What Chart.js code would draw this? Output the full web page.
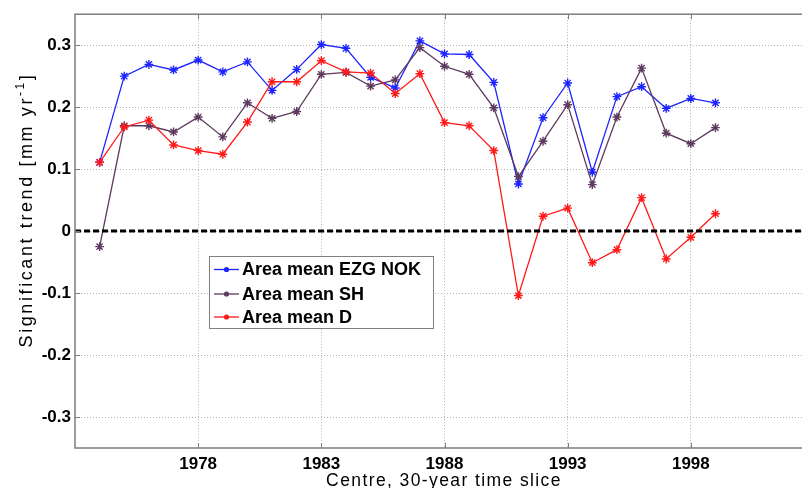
<!DOCTYPE html>
<html>
<head>
<meta charset="utf-8">
<script src="https://cdn.jsdelivr.net/npm/chart.js@4/dist/chart.umd.min.js"></script>
<style>
  html, body { margin: 0; padding: 0; background: #fff; overflow: hidden; }
  canvas { display: block; }
</style>
</head>
<body>
<canvas id="c" width="830" height="488"></canvas>
<script>
// Centre year of each 30-year time slice
const years = [1974, 1975, 1976, 1977, 1978, 1979, 1980, 1981, 1982, 1983, 1984, 1985, 1986,
               1987, 1988, 1989, 1990, 1991, 1992, 1993, 1994, 1995, 1996, 1997, 1998, 1999];

// Significant trend [mm/yr], area means
const ezgNok = [0.111, 0.250, 0.269, 0.260, 0.276, 0.257, 0.273, 0.227, 0.261, 0.301, 0.295, 0.248, 0.231,
                0.307, 0.286, 0.285, 0.240, 0.076, 0.183, 0.239, 0.095, 0.217, 0.233, 0.198, 0.214, 0.207];
const sh     = [-0.025, 0.170, 0.170, 0.160, 0.184, 0.152, 0.207, 0.182, 0.193, 0.253, 0.256, 0.234, 0.244,
                0.296, 0.266, 0.253, 0.199, 0.088, 0.145, 0.204, 0.075, 0.184, 0.263, 0.158, 0.141, 0.167];
const dMean  = [0.111, 0.168, 0.179, 0.139, 0.130, 0.124, 0.176, 0.241, 0.241, 0.275, 0.257, 0.255, 0.222,
                0.254, 0.175, 0.170, 0.130, -0.104, 0.024, 0.037, -0.051, -0.030, 0.054, -0.045, -0.010, 0.028];

const seriesNames = ['Area mean EZG NOK', 'Area mean SH', 'Area mean D'];

// Axis layout
const xRange = [1973, 2003];
const yRange = [-0.35, 0.35];
const xTicks = [1978, 1983, 1988, 1993, 1998];
const yTicks = [-0.3, -0.2, -0.1, 0, 0.1, 0.2, 0.3];
const zeroLine = [0, 0];

const FONT = "'Liberation Sans', Arial, Helvetica, sans-serif";
const toPoints = (vals) => years.map((yr, i) => ({ x: yr, y: vals[i] }));

function series(label, vals, color, order) {
  return {
    label, data: toPoints(vals), order,
    borderColor: color, backgroundColor: color,
    borderWidth: 1.3, pointStyle: 'star', pointRadius: 4.4,
    pointBorderWidth: 1.4, pointBorderColor: color, tension: 0
  };
}

// Frame, inward tick marks, legend box and axis titles
const decorations = {
  id: 'decorations',
  afterDraw(chart) {
    const { ctx, chartArea: a, scales: { x, y } } = chart;
    ctx.save();
    ctx.strokeStyle = '#7d7d7d';
    ctx.lineWidth = 1.5;
    ctx.strokeRect(a.left, a.top, a.right - a.left, a.bottom - a.top);
    ctx.lineWidth = 1;
    ctx.beginPath();
    xTicks.forEach(v => {
      const px = Math.round(x.getPixelForValue(v)) + 0.5;
      ctx.moveTo(px, a.bottom); ctx.lineTo(px, a.bottom - 5);
      ctx.moveTo(px, a.top); ctx.lineTo(px, a.top + 5);
    });
    yTicks.forEach(v => {
      const py = Math.round(y.getPixelForValue(v)) + 0.5;
      ctx.moveTo(a.left, py); ctx.lineTo(a.left + 5, py);
    });
    ctx.stroke();

    // legend
    const lx = 209.5, ly = 256.5, lw = 224, lh = 72;
    ctx.fillStyle = '#fff';
    ctx.fillRect(lx, ly, lw, lh);
    ctx.strokeStyle = '#808080';
    ctx.lineWidth = 1;
    ctx.strokeRect(lx, ly, lw, lh);
    const rows = [269.5, 294, 317];
    const ds = chart.data.datasets.filter(d => seriesNames.includes(d.label));
    ds.forEach((d, i) => {
      const ry = rows[i];
      ctx.strokeStyle = d.borderColor;
      ctx.lineWidth = 1.3;
      ctx.beginPath(); ctx.moveTo(214, ry); ctx.lineTo(239, ry); ctx.stroke();
      ctx.beginPath(); ctx.fillStyle = d.borderColor; ctx.arc(226.5, ry, 2.6, 0, Math.PI * 2); ctx.fill();
      ctx.fillStyle = '#000';
      ctx.font = 'bold 18px ' + FONT;
      ctx.textBaseline = 'middle';
      ctx.textAlign = 'left';
      ctx.fillText(d.label, 242, ry + 1);
    });

    // axis titles
    ctx.fillStyle = '#000';
    ctx.textBaseline = 'middle';
    ctx.letterSpacing = '1.4px';
    ctx.font = '17.5px ' + FONT;
    ctx.textAlign = 'center';
    ctx.fillText('Centre, 30-year time slice', 444, 481);

    ctx.translate(27, 210);
    ctx.rotate(-Math.PI / 2);
    ctx.letterSpacing = '2.6px';
    const main = 'Significant trend [mm yr';
    const sup = '-1';
    const tail = ']';
    ctx.font = '18px ' + FONT;
    const w1 = ctx.measureText(main).width;
    const w3 = ctx.measureText(tail).width;
    ctx.font = '12px ' + FONT;
    const w2 = ctx.measureText(sup).width;
    let sx = -(w1 + w2 + w3) / 2;
    ctx.textAlign = 'left';
    ctx.font = '18px ' + FONT;
    ctx.fillText(main, sx, 0);
    ctx.font = '12px ' + FONT;
    ctx.fillText(sup, sx + w1, -6);
    ctx.font = '18px ' + FONT;
    ctx.fillText(tail, sx + w1 + w2, 0);
    ctx.restore();
  }
};

new Chart(document.getElementById('c'), {
  type: 'line',
  data: {
    datasets: [
      {
        label: 'zero', data: xRange.map((v, i) => ({ x: v, y: zeroLine[i] })), order: 0,
        borderColor: '#000', borderWidth: 3, borderDash: [6, 3], pointRadius: 0
      },
      series(seriesNames[0], ezgNok, '#1d25ff', 3),
      series(seriesNames[1], sh, '#5e3a5e', 2),
      series(seriesNames[2], dMean, '#ff1a1a', 1)
    ]
  },
  options: {
    responsive: false,
    animation: false,
    devicePixelRatio: 1,
    layout: { padding: { top: 13, right: 16, bottom: 0, left: 0 } },
    plugins: { legend: { display: false }, tooltip: { enabled: false } },
    scales: {
      x: {
        type: 'linear', min: xRange[0], max: xRange[1],
        afterBuildTicks: s => { s.ticks = xTicks.map(v => ({ value: v })); },
        afterFit: s => { s.height = 40; },
        grid: { color: '#b0b0b0', lineWidth: 1, drawTicks: false },
        border: { display: false, dash: [1, 2] },
        ticks: {
          padding: 6, color: '#000', maxRotation: 0, autoSkip: false,
          font: { family: FONT, size: 17, weight: 'bold' },
          callback: v => String(v)
        }
      },
      y: {
        type: 'linear', min: yRange[0], max: yRange[1],
        afterBuildTicks: s => { s.ticks = yTicks.map(v => ({ value: v })); },
        afterFit: s => { s.width = 75; },
        grid: { color: '#b0b0b0', lineWidth: 1, drawTicks: false },
        border: { display: false, dash: [1, 2] },
        ticks: {
          padding: 4, color: '#000',
          font: { family: FONT, size: 17, weight: 'bold' },
          callback: v => (Math.abs(v) < 1e-9 ? '0' : String(Math.round(v * 10) / 10))
        }
      }
    }
  },
  plugins: [decorations]
});
</script>
</body>
</html>
